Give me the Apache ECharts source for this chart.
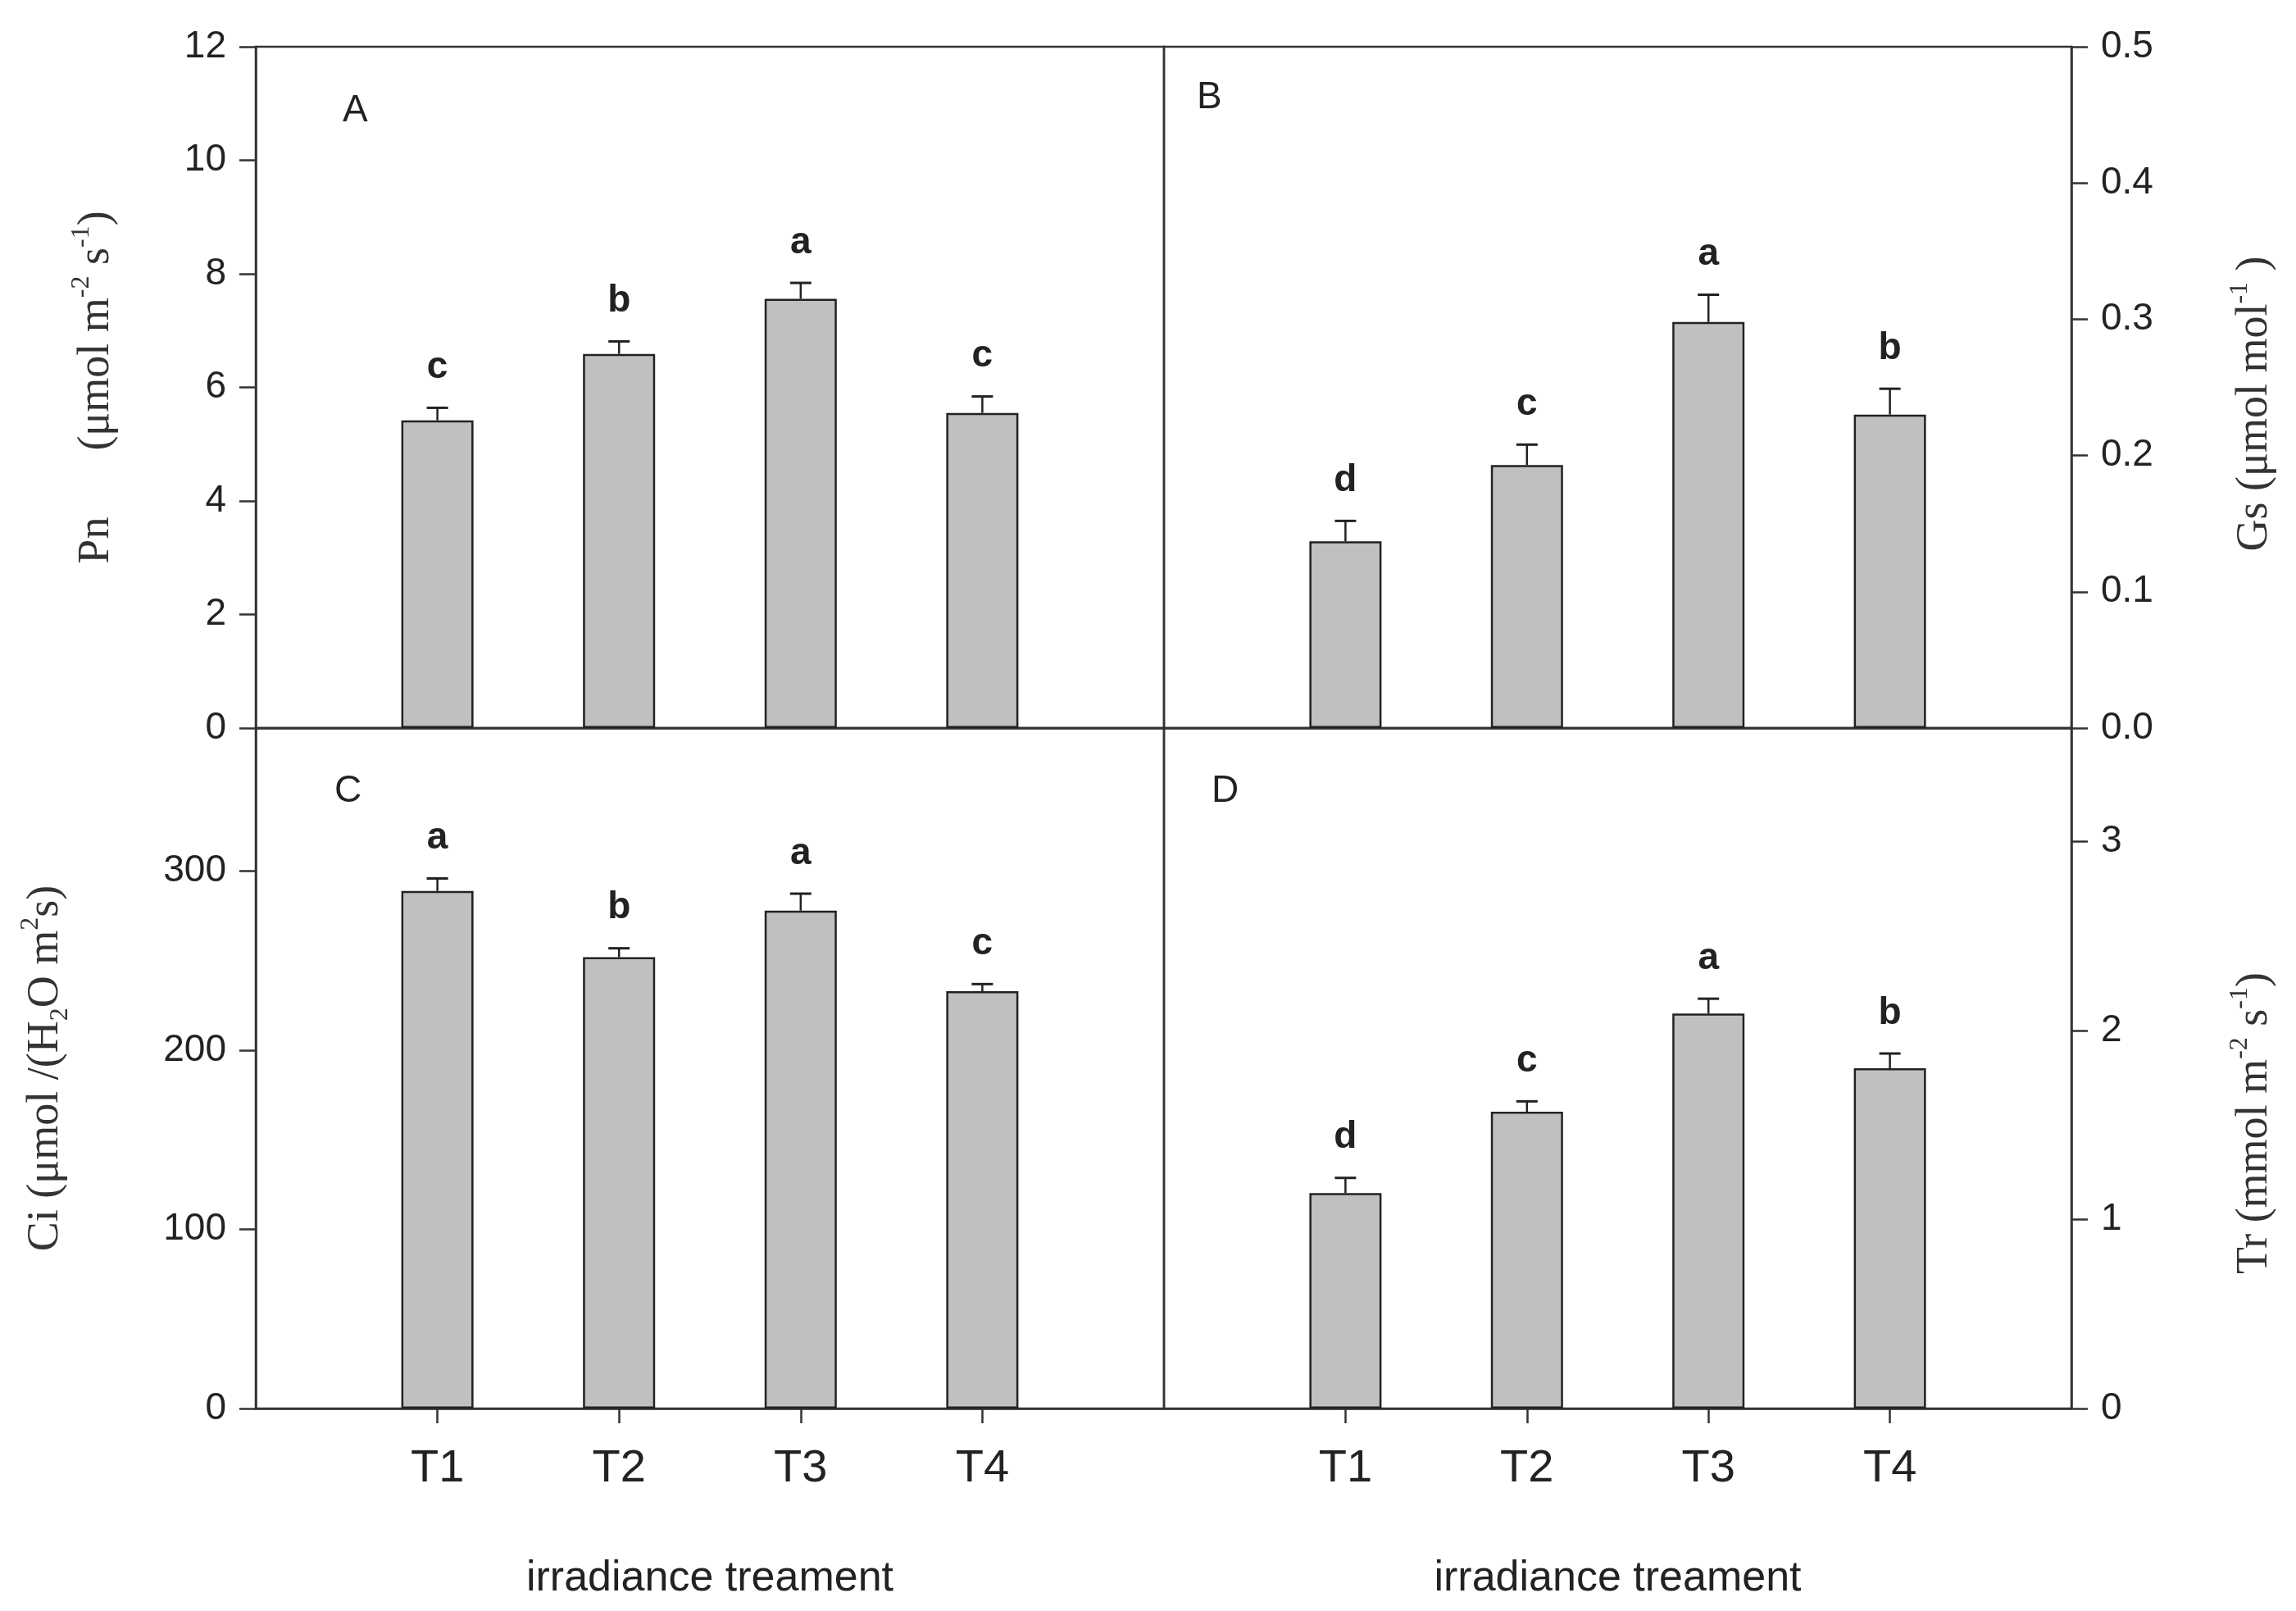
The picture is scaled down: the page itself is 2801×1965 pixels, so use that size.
<!DOCTYPE html>
<html><head><meta charset="utf-8">
<script src="https://cdn.jsdelivr.net/npm/echarts@6/dist/echarts.min.js"></script>
<style>html,body{margin:0;padding:0;background:#fff}#c{width:2801px;height:1965px}</style>
</head><body><div id="c"></div>
<script>
// ---- data ----
const categories = ['T1', 'T2', 'T3', 'T4'];
const pnMean = [5.42, 6.59, 7.56, 5.55];
const pnErr = [0.22, 0.22, 0.28, 0.29];
const pnLetters = ['c', 'b', 'a', 'c'];
const gsMean = [0.137, 0.193, 0.298, 0.230];
const gsErr = [0.015, 0.015, 0.020, 0.019];
const gsLetters = ['d', 'c', 'a', 'b'];
const ciMean = [289, 252, 278, 233];
const ciErr = [7, 5, 9.5, 4];
const ciLetters = ['a', 'b', 'a', 'c'];
const trMean = [1.14, 1.57, 2.09, 1.80];
const trErr = [0.08, 0.055, 0.078, 0.078];
const trLetters = ['d', 'c', 'a', 'b'];
const pnAxis = { min: 0, max: 12, interval: 2 };
const gsAxis = { min: 0, max: 0.5, interval: 0.1 };
const ciAxis = { min: 0, max: 380, interval: 100, labelMax: 300 };
const trAxis = { min: 0, max: 3.6, interval: 1, labelMax: 3 };
const panelLabels = ['A', 'B', 'C', 'D'];
const xTitle = 'irradiance treament';

// ---- build ----
const sans = '"Liberation Sans", Arial, Helvetica, sans-serif';
const serif = '"Liberation Serif", "Times New Roman", serif';
const lineCol = '#333';
const axisCats = [' ', ...categories, '  '];

const grids = [
  { left: 312, top: 57, width: 1108, height: 831 },
  { left: 1420, top: 57, width: 1107, height: 831 },
  { left: 312, top: 888, width: 1108, height: 830 },
  { left: 1420, top: 888, width: 1107, height: 830 }
].map(g => Object.assign(g, { show: true, borderColor: lineCol, borderWidth: 2.5, backgroundColor: 'transparent' }));

function xAx(gi, bottom) {
  return {
    type: 'category', gridIndex: gi, data: axisCats, boundaryGap: false,
    axisLine: { show: true, lineStyle: { color: lineCol, width: 2.5 } },
    axisTick: { show: bottom, inside: false, length: 18, interval: (i) => i > 0 && i < axisCats.length - 1, lineStyle: { color: lineCol, width: 2.5 } },
    axisLabel: { show: bottom, interval: 0, margin: 46, fontSize: 56, fontFamily: sans, color: '#222' },
    splitLine: { show: false },
    name: bottom ? xTitle : '', nameLocation: 'middle', nameGap: 182,
    nameTextStyle: { fontSize: 52, fontFamily: sans, color: '#222' }
  };
}

const richStyles = {
  sup: { fontSize: 32, fontFamily: serif, color: '#333', verticalAlign: 'top' },
  sub: { fontSize: 32, fontFamily: serif, color: '#333', verticalAlign: 'bottom' }
};

function yAx(gi, pos, ax, fmt, name, gap, pad) {
  return {
    type: 'value', gridIndex: gi, position: pos,
    min: ax.min, max: ax.max, interval: ax.interval,
    axisLine: { show: true, lineStyle: { color: lineCol, width: 2.5 } },
    axisTick: { show: true, inside: false, length: 20, lineStyle: { color: lineCol, width: 2.5 } },
    axisLabel: {
      margin: 36, fontSize: 46, fontFamily: sans, color: '#222',
      formatter: v => (ax.labelMax !== undefined && v > ax.labelMax + 1e-9) ? '' : fmt(v)
    },
    splitLine: { show: false },
    name: name, nameLocation: 'middle', nameGap: gap,
    nameTextStyle: { fontSize: 54, fontFamily: serif, color: '#333', lineHeight: 68, padding: pad || 0, rich: richStyles }
  };
}

function barSeries(gi, means) {
  return {
    type: 'bar', xAxisIndex: gi, yAxisIndex: gi, barWidth: 88,
    data: means.map((v, i) => [i + 1, v]),
    itemStyle: { color: '#c0c0c0', borderColor: '#222', borderWidth: 2.5 },
    silent: true, animation: false
  };
}

function errSeries(gi, means, errs, letters) {
  return {
    type: 'custom', xAxisIndex: gi, yAxisIndex: gi, z: 5, animation: false, clip: false,
    data: means.map((m, i) => [i + 1, m, errs[i]]),
    renderItem(params, api) {
      const x = api.value(0), m = api.value(1), e = api.value(2);
      const p0 = api.coord([x, m]);
      const p1 = api.coord([x, m + e]);
      const hw = 13;
      return {
        type: 'group', children: [
          { type: 'line', shape: { x1: p0[0], y1: p0[1], x2: p1[0], y2: p1[1] }, style: { stroke: '#222', lineWidth: 2.5 } },
          { type: 'line', shape: { x1: p1[0] - hw, y1: p1[1], x2: p1[0] + hw, y2: p1[1] }, style: { stroke: '#222', lineWidth: 3 } },
          { type: 'text', x: p1[0], y: p1[1] - 26, style: { text: letters[params.dataIndex], align: 'center', verticalAlign: 'bottom', fontSize: 46, fontWeight: 'bold', fontFamily: sans, fill: '#222' } }
        ]
      };
    }
  };
}

const panelPos = [[418, 112], [1460, 96], [408, 942], [1478, 942]];

const option = {
  backgroundColor: '#fff',
  animation: false,
  grid: grids,
  xAxis: [xAx(0, false), xAx(1, false), xAx(2, true), xAx(3, true)],
  yAxis: [
    yAx(0, 'left', pnAxis, v => String(v), 'Pn      (μmol m{sup|-2} s{sup|-1})', 160),
    yAx(1, 'right', gsAxis, v => v.toFixed(1), 'Gs (μmol mol{sup|-1} )', 190, [0, 40, 0, 0]),
    yAx(2, 'left', ciAxis, v => String(v), 'Ci (μmol /(H{sub|2}O m{sup|2}s)', 222),
    yAx(3, 'right', trAxis, v => String(v), 'Tr (mmol m{sup|-2} s{sup|-1})', 190, [0, 134, 0, 0])
  ],
  series: [
    barSeries(0, pnMean), errSeries(0, pnMean, pnErr, pnLetters),
    barSeries(1, gsMean), errSeries(1, gsMean, gsErr, gsLetters),
    barSeries(2, ciMean), errSeries(2, ciMean, ciErr, ciLetters),
    barSeries(3, trMean), errSeries(3, trMean, trErr, trLetters)
  ],
  graphic: panelLabels.map((t, i) => ({
    type: 'text', left: panelPos[i][0], top: panelPos[i][1],
    style: { text: t, fontSize: 46, fontFamily: sans, fill: '#222' }
  }))
};

const chart = echarts.init(document.getElementById('c'), null, { renderer: 'canvas' });
chart.setOption(option);
</script>
</body></html>
